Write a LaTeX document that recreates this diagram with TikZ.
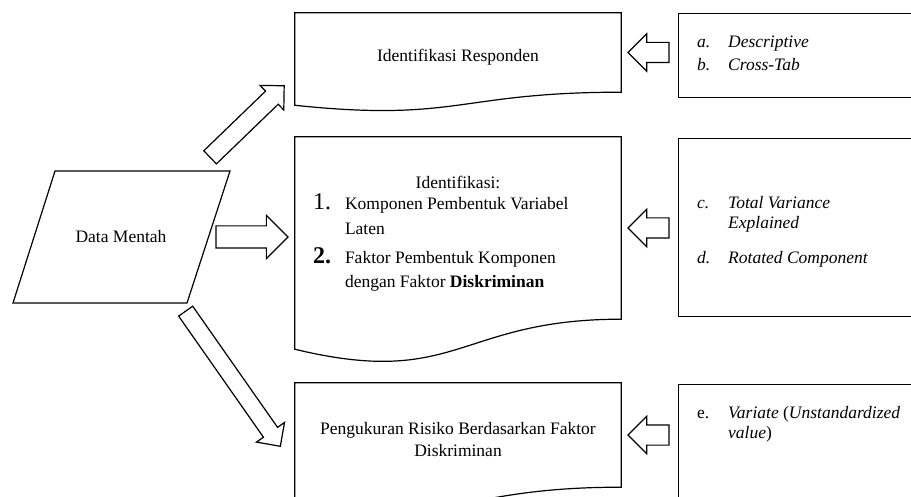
\documentclass[tikz,border=0pt]{standalone}
\usepackage{fontspec}
\setmainfont{Liberation Serif}
\usepackage{tikz}
\usetikzlibrary{calc,shapes.arrows}
\tikzset{
    every node/.style={font=\fontsize{17.5}{20}\selectfont, inner sep=0pt}
}
\tikzset{
    box/.style={draw, line width=1.2pt},
    doc/.style={minimum width=326pt, align=center},
    sidebox/.style={box, minimum width=260pt, anchor=north west}
}
\tikzset{
    fatarrow/.style n args={3}{draw, line width=1.2pt, single arrow,
        single arrow tip angle=90, anchor=tip, text height=0pt,
        text depth=0pt, inner xsep=0pt, minimum height=#1, inner ysep=#2,
        single arrow head extend=#3, minimum width=2*#2+2*#3}
}
\newcommand{\docshape}[1]{%
    \draw[box] (#1.north west) -- (#1.north east) -- (#1.south east)
        .. controls (#1.south) and ($(#1.north)!1.381!(#1.south)$)
        .. ($(#1.north west)!1.1646!(#1.south west)$) -- cycle;
}

\begin{document}
\begin{tikzpicture}[x=1pt,y=-1pt]
	\useasboundingbox (0,0) rectangle (911,497);
	\clip (0,0) rectangle (911,497);

	\node (data) at (121,237) {Data Mentah};
	\draw[box] ($(data)+(-66,-66)$) -- ($(data)+(109,-66)$)
		-- ($(data)+(66,66)$) -- ($(data)+(-108,66)$) -- cycle;

	\node[doc, minimum height=79pt] (resp) at (458,52.5)
		{\rule{0pt}{21pt}Identifikasi Responden};
	\node[doc, minimum height=182pt] (ident) at (458,228) {%
		\begin{tabular}{@{}p{32pt}@{}p{258pt}@{}}
			\multicolumn{2}{@{}c@{}}{\rule{0pt}{26pt}Identifikasi:}\\
			{\fontsize{24}{20}\selectfont 1.} & Komponen Pembentuk Variabel\\[5pt]
			& Laten\\[7pt]
			{\fontsize{24}{20}\selectfont\bfseries 2.} & Faktor Pembentuk Komponen\\[4pt]
			& dengan Faktor \textbf{Diskriminan}
		\end{tabular}};
	\node[doc, minimum height=104pt] (ukur) at (458,435)
		{\rule{0pt}{21pt}Pengukuran Risiko Berdasarkan Faktor\\[2pt]Diskriminan};
	\docshape{resp}
	\docshape{ident}
	\docshape{ukur}

	\node[sidebox, minimum height=84pt] (abbox) at (678,13) {};
	\node[sidebox, minimum height=178pt] (cdbox) at (678,138) {};
	\node[sidebox, minimum height=150pt] (ebox) at (678,384) {};

	\node[anchor=west] (ab) at (697,55) {%
		\begin{tabular}{@{}p{31pt}@{}l@{}}
			\textit{a.} & \textit{Descriptive}\\[3pt]
			\textit{b.} & \textit{Cross-Tab}
		\end{tabular}};
	\node[anchor=west] (cd) at (697,232) {%
		\begin{tabular}{@{}p{31pt}@{}l@{}}
			\textit{c.} & \textit{Total Variance}\\
			& \textit{Explained}\\[15pt]
			\textit{d.} & \textit{Rotated Component}
		\end{tabular}};
	\node[anchor=west] (e) at (697,424.5) {%
		\begin{tabular}{@{}p{31pt}@{}l@{}}
			e. & \textit{Variate} (\textit{Unstandardized}\\
			& \textit{value})
		\end{tabular}};

	\node[fatarrow={41pt}{9.5pt}{8.5pt}, rotate=180] (a1) at ([xshift=6pt]resp.east) {};
	\node[fatarrow={41pt}{9.5pt}{8.5pt}, rotate=180] (a2) at ([xshift=6pt]ident.east) {};
	\node[fatarrow={41pt}{9.5pt}{8.5pt}, rotate=180] (a3) at ([xshift=6pt]ukur.east) {};
	\node[fatarrow={72pt}{10.5pt}{10.5pt}] (a4) at ([xshift=-6pt]ident.west |- data) {};
	\node[fatarrow={103pt}{8.5pt}{8pt}, rotate=44] (a5)
		at ([xshift=-10pt,yshift=7pt]resp.south west) {};
	\node[fatarrow={165pt}{8pt}{8.5pt}, rotate=-55] (a6)
		at ([xshift=-14pt,yshift=-12pt]ukur.west) {};
\end{tikzpicture}
\end{document}
